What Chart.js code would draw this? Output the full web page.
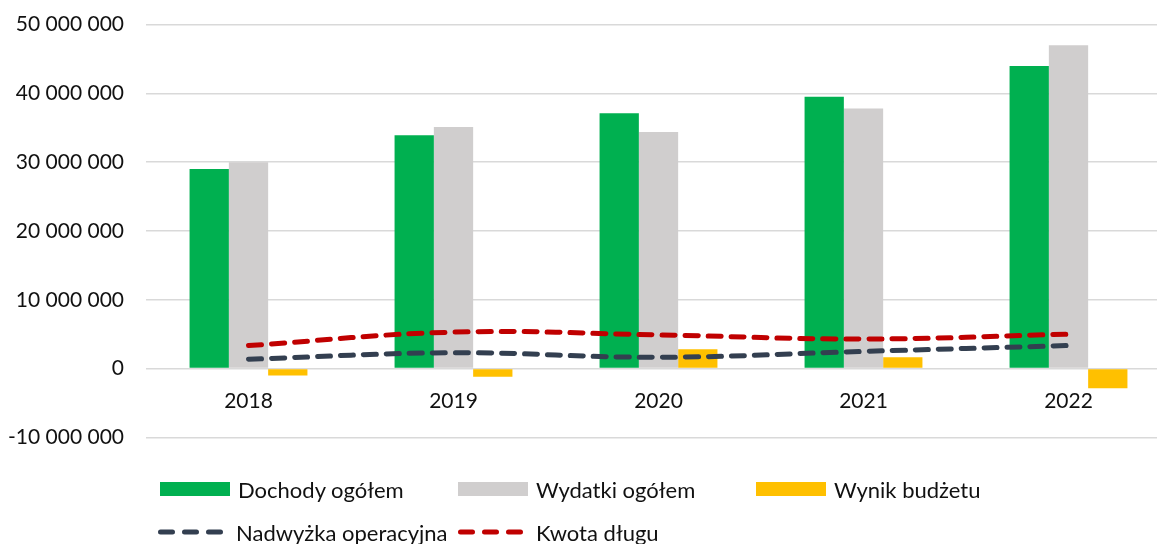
<!DOCTYPE html>
<html>
<head>
<meta charset="utf-8">
<script src="https://cdn.jsdelivr.net/npm/chart.js@4"></script>
<style>
  html, body { margin: 0; padding: 0; background: #fff; overflow: hidden; }
  body { width: 1157px; height: 544px; position: relative; font-family: Lato, "Open Sans", sans-serif; }
  #wrap { position: absolute; left: 0; top: -10px; width: 1175px; height: 482px; }
  #legend { position: absolute; left: 0; top: 0; width: 1157px; height: 544px; pointer-events: none; }
  .item { position: absolute; display: flex; align-items: center; font-size: 22px; color: #111; white-space: nowrap; }
  .box { width: 70px; height: 14px; margin-right: 8px; }
  .item svg { margin-right: 12px; }
</style>
</head>
<body>
<div id="wrap"><canvas id="chart"></canvas></div>
<div id="legend"></div>
<script>
// =======================
// DATA
// =======================

const years = ["2018", "2019", "2020", "2021", "2022"];

const dochody = [29000000, 33900000, 37100000, 39500000, 44000000];
const wydatki = [30000000, 35100000, 34400000, 37800000, 47000000];
const wynik = [-1000000, -1200000, 2800000, 1650000, -2850000];
const nadwyzka = [1370000, 2300000, 1650000, 2500000, 3350000];
const kwotaDlugu = [3350000, 5300000, 4900000, 4300000, 5000000];

const seriesNames = ["Dochody ogółem", "Wydatki ogółem", "Wynik budżetu", "Nadwyżka operacyjna", "Kwota długu"];
const yTicks = [-10000000, 0, 10000000, 20000000, 30000000, 40000000, 50000000];

const FONT = "Lato, 'Open Sans', sans-serif";

function fmt(v) {
  let s = String(Math.abs(v)).replace(/\B(?=(\d{3})+(?!\d))/g, " ");
  return (v < 0 ? "-" : "") + s;
}

// =======================
// CHART
// =======================

const ctx = document.getElementById("chart").getContext("2d");

const chart = new Chart(ctx, {
  type: "bar",
  data: {
    labels: years,
    datasets: [
      { label: seriesNames[0], data: dochody, backgroundColor: "#00B050", order: 2 },
      { label: seriesNames[1], data: wydatki, backgroundColor: "#D0CECE", order: 2 },
      { label: seriesNames[2], data: wynik, backgroundColor: "#FFC000", order: 2 },
      {
        type: "line", label: seriesNames[3], data: nadwyzka,
        borderColor: "#333F50", borderWidth: 5, borderDash: [13, 10], borderCapStyle: "round",
        pointRadius: 0, tension: 0.4, fill: false, order: 1
      },
      {
        type: "line", label: seriesNames[4], data: kwotaDlugu,
        borderColor: "#C00000", borderWidth: 5, borderDash: [13, 10], borderCapStyle: "round",
        pointRadius: 0, tension: 0.4, fill: false, order: 0
      }
    ]
  },
  options: {
    responsive: true,
    maintainAspectRatio: false,
    animation: false,
    datasets: {
      bar: { categoryPercentage: 0.575, barPercentage: 1 }
    },
    layout: { padding: { top: 13, bottom: 13, left: 0, right: 4 } },
    plugins: {
      legend: { display: false },
      tooltip: { enabled: false }
    },
    scales: {
      x: {
        position: { y: 0 },
        grid: { display: false, drawTicks: false },
        border: { display: false },
        ticks: { color: "#111", font: { family: FONT, size: 21 }, padding: 20 }
      },
      y: {
        min: -10000000,
        max: 50000000,
        afterBuildTicks: (scale) => { scale.ticks = yTicks.map(v => ({ value: v })); },
        afterFit: (scale) => { scale.width = 146; },
        grid: { color: "#D9D9D9", lineWidth: 1.5, drawTicks: false },
        border: { display: false },
        ticks: {
          color: "#111",
          font: { family: FONT, size: 21 },
          padding: 22,
          callback: (v) => fmt(v)
        }
      }
    }
  }
});

// =======================
// LEGEND
// =======================

const legend = document.getElementById("legend");
const legendPos = [
  [160, 489], [458, 489], [756, 489],
  [158, 532], [458, 532]
];

chart.data.datasets.forEach((ds, i) => {
  const el = document.createElement("div");
  el.className = "item";
  el.style.left = legendPos[i][0] + "px";
  el.style.top = (legendPos[i][1] - 14) + "px";
  el.style.height = "28px";
  let marker;
  if (ds.type === "line") {
    marker = `<svg width="66" height="10"><line x1="2.5" y1="5" x2="62.5" y2="5" stroke="${ds.borderColor}" stroke-width="5" stroke-dasharray="12 12" stroke-linecap="round"/></svg>`;
  } else {
    marker = `<div class="box" style="background:${ds.backgroundColor}"></div>`;
  }
  el.innerHTML = marker + `<span>${ds.label}</span>`;
  legend.appendChild(el);
});
</script>
</body>
</html>
